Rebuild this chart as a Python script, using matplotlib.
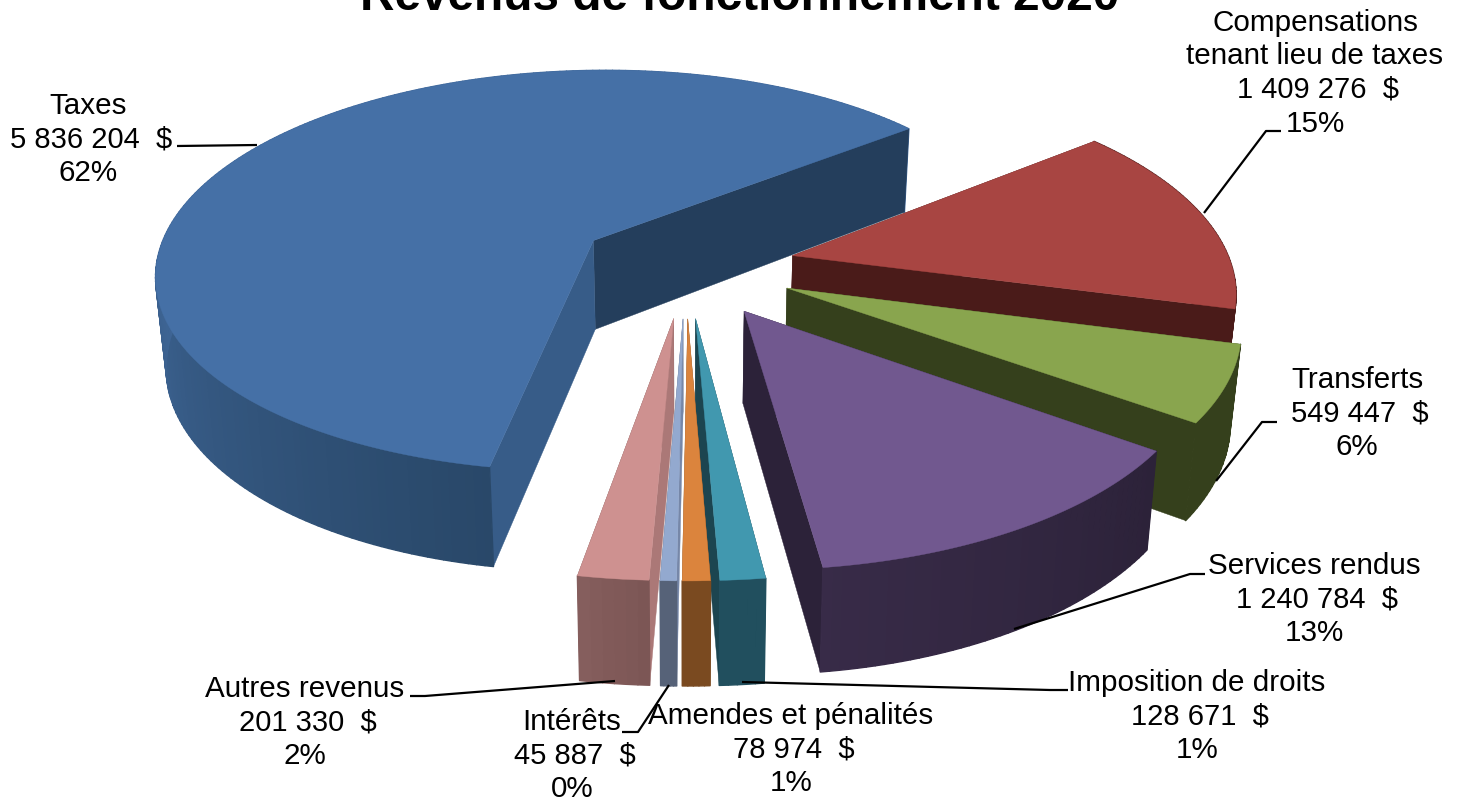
import numpy as np
import matplotlib
matplotlib.use('Agg')
import matplotlib.pyplot as plt
from matplotlib.collections import PolyCollection
from matplotlib.colors import to_rgb

plt.rcParams['font.family'] = ['Liberation Sans', 'DejaVu Sans']

names = ['Taxes', 'Compensations\ntenant lieu de taxes', 'Transferts', 'Services rendus',
         'Imposition de droits', 'Amendes et pénalités', 'Intérêts', 'Autres revenus']
values = [5836204, 1409276, 549447, 1240784, 128671, 78974, 45887, 201330]
percents = [62, 15, 6, 13, 1, 1, 0, 2]

top_colors = ['#4570A6', '#A84542', '#89A54E', '#71588F', '#4198AF', '#DB843D', '#93A9CF', '#CE9190']
# wall colours: outer wall at slice start / end, then the two cut faces
outer_a = ['#294869', '#4A1B19', '#35401C', '#2C2239', '#214F5E', '#7A4A20', '#566278', '#7C5655']
outer_b = ['#41699B', '#4A1B19', '#35401C', '#382B48', '#214F5E', '#7A4A20', '#566278', '#875F5E']
wall_start = ['#375C88', '#4A1B19', '#35401C', '#2C2239', '#1C4550', '#7A4A20', '#7687A8', '#AB7877']
wall_end = ['#243E5C', '#4A1B19', '#35401C', '#2C2239', '#1C4550', '#7A4A20', '#566278', '#7C5655']

# label anchors (centre x, middle of first line y) and leader lines
label_pos = [(88, 106), (1315, 23), (1357, 380), (1314, 566), (1197, 683), (791, 716), (572, 722), (305, 689)]
leaders = [[(177, 147), (257, 146)],
           [(1281, 132), (1266, 132), (1204, 214)],
           [(1277, 423), (1262, 423), (1216, 482)],
           [(1205, 575), (1190, 575), (1014, 630)],
           [(1068, 691), (1050, 691), (742, 683)],
           None,
           [(622, 733), (638, 733), (669, 686)],
           [(410, 697), (425, 697), (615, 682)]]

# view of the pie
first_angle = 10.0
explode = 0.25
cx, cy = 686, 267
rx, ry = 439, 203.6
persp = 0.1535
depth = 90
shrink = 0.98


def project(u, v, bottom=False):
    w = 1 - persp * v
    x = rx * u / w
    y = ry * v / w
    if bottom:
        return cx + x * shrink, cy + y * shrink + depth / w
    return cx + x, cy + y


def direction(t):
    t = np.radians(t)
    return -np.sin(t), np.cos(t)


def quad_wall(ax, u0, v0, u1, v1, color, z):
    x0, y0 = project(u0, v0)
    x1, y1 = project(u1, v1)
    x2, y2 = project(u1, v1, True)
    x3, y3 = project(u0, v0, True)
    ax.fill([x0, x1, x2, x3], [y0, y1, y2, y3], color=color, lw=0.3, zorder=z)


fig = plt.figure(figsize=(14.63, 8.04), dpi=100)
ax = fig.add_axes([0, 0, 1, 1])
ax.set_xlim(0, 1463)
ax.set_ylim(804, 0)
ax.axis('off')

total = sum(values)
angle = first_angle
for i, val in enumerate(values):
    span = val / total * 360
    t0, t1 = angle, angle + span
    angle = t1
    mid_u, mid_v = direction((t0 + t1) / 2)
    ou, ov = explode * mid_u, explode * mid_v
    z = 2 + i * 0.1
    ts = np.linspace(t0, t1, max(int(span), 6))
    du, dv = direction(ts)
    eu, ev = ou + du, ov + dv

    # outer wall as thin quads, back part first so the cut faces cover it
    ca, cb = np.array(to_rgb(outer_a[i])), np.array(to_rgb(outer_b[i]))
    limit = min(span, 90)
    back_polys, front_polys, back_cols, front_cols = [], [], [], []
    for j in range(len(ts) - 1):
        a = np.array(project(eu[j], ev[j]))
        b = np.array(project(eu[j + 1], ev[j + 1]))
        c = np.array(project(eu[j + 1], ev[j + 1], True))
        d = np.array(project(eu[j], ev[j], True))
        f = min((ts[j] - t0) / limit, 1)
        col = ca + (cb - ca) * f
        if dv[j] < 0:
            back_polys.append([a, b, c, d])
            back_cols.append(col)
        else:
            front_polys.append([a, b, c, d])
            front_cols.append(col)
    if back_polys:
        ax.add_collection(PolyCollection(back_polys, facecolors=back_cols, edgecolors=back_cols, linewidths=1, zorder=z))
    quad_wall(ax, ou, ov, eu[-1], ev[-1], wall_end[i], z + 0.01)
    quad_wall(ax, ou, ov, eu[0], ev[0], wall_start[i], z + 0.02)
    if front_polys:
        ax.add_collection(PolyCollection(front_polys, facecolors=front_cols, edgecolors=front_cols, linewidths=1, zorder=z + 0.03))

    # top face
    tx, ty = project(np.r_[ou, eu], np.r_[ov, ev])
    ax.fill(tx, ty, color=top_colors[i], lw=0.3, zorder=z + 0.04)

for i, name in enumerate(names):
    lx, ly = label_pos[i]
    amount = f'{values[i]:,}'.replace(',', ' ') + '  $'
    lines = name.split('\n') + [amount, f'{percents[i]}%']
    for j, line in enumerate(lines):
        # amount line sits a little right of the others in the reference
        off = 3 if line == amount else 0
        size = 21 if line == amount else 21.3
        ax.text(lx + off, ly + j * 33.5, line, ha='center', va='center', fontsize=size, color='black', zorder=10)
    if leaders[i]:
        ax.plot(*zip(*leaders[i]), color='black', lw=1.6, zorder=9, solid_capstyle='butt')

ax.text(740, 10, 'Revenus de fonctionnement 2020', ha='center', va='baseline', fontsize=34.4,
        fontweight='bold', color='black', zorder=10, clip_on=False)

plt.savefig('out.png', dpi=100)
